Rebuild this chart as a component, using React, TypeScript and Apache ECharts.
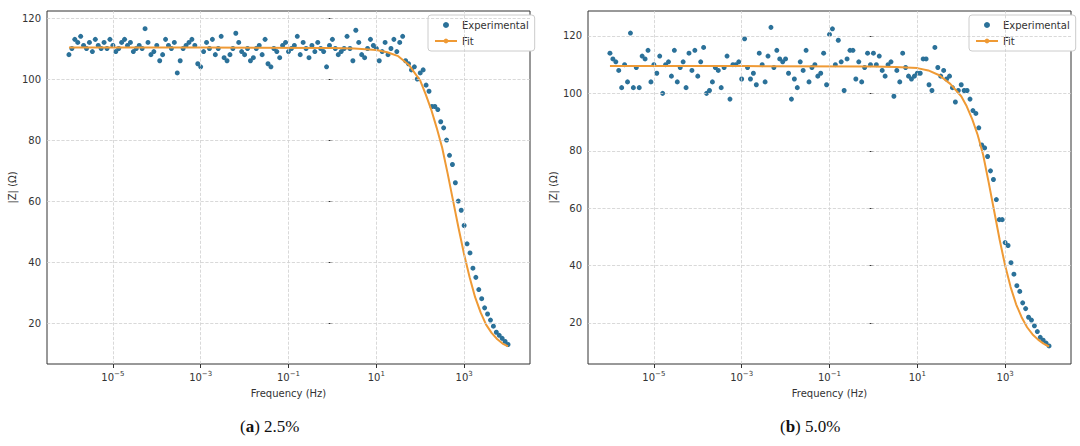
import React, { useEffect, useRef } from 'react';
import * as echarts from 'echarts';

// measurement grid: 151 frequencies, 15 per decade, 1e-6 .. 1e4 Hz
const logFreq: number[] = Array.from({ length: 151 }, (_, i) => -6 + i / 15);

const zLeft: number[] = [
  108, 110, 113, 112, 114, 111, 110, 112, 109, 113, 111, 110, 112, 110, 113, 111, 109, 110, 112, 113,
  111, 112, 109, 110, 111, 110, 116.5, 112, 108, 109, 111, 106, 108, 113, 111, 110, 112, 102, 106, 110,
  111, 112, 113, 111, 105, 104, 109, 112, 110, 113, 108, 110, 114, 107, 106, 108, 110, 115, 112, 109,
  108, 110, 106, 107, 110, 111, 108, 113, 105, 104, 110, 109, 107, 111, 112, 109, 110, 111, 114, 108,
  112, 110, 107, 111, 109, 112, 110, 109, 104, 111, 113, 110, 108, 109, 110, 114, 110, 106, 116, 112,
  108, 107, 110, 113, 111, 110, 106, 109, 112, 108, 110, 113, 109, 112, 114,
];
const zLeftDrop: number[] = [
  106, 105, 103, 104, 100, 102, 103, 98, 96, 91, 91, 90, 86, 84, 80, 75, 72, 66, 60, 57,
  52, 46, 43, 38, 35, 31, 28, 25, 23, 21, 19, 17, 16, 15, 14, 13, 12.5, 12.5,
];

const zRight: number[] = [
  114, 112, 111, 108, 102, 110, 104, 121, 102, 109, 102, 113, 112, 115, 104, 110, 107, 113, 100, 110,
  111, 106, 115, 104, 109, 111, 102, 114, 108, 115, 106, 111, 116, 100, 101, 104, 109, 108, 102, 109,
  113, 98, 110, 110, 111, 105, 119, 109, 105, 107, 103, 114, 110, 104, 113, 123, 109, 115, 112, 111,
  112, 107, 98, 105, 102, 111, 108, 115, 104, 109, 110, 106, 107, 114, 103, 120.5, 122.5, 110, 118.5, 111,
  101, 112, 115, 115, 105, 111, 104, 109, 114, 110, 114, 110, 113, 108, 106, 110, 111, 99, 108, 104,
  114, 109, 106, 105, 106, 107, 107, 112, 112, 103, 101, 116, 109,
];
const zRightDrop: number[] = [
  106, 108, 105, 106, 102, 97, 101, 103, 101, 101, 98, 94, 93, 88, 82, 81, 78, 73, 70, 63,
  56, 56, 48, 47, 41, 37, 33, 31, 27, 25, 22, 21, 19, 17, 15, 14, 13, 12,
];

const fitLogs: number[] = [-6, -3, 0, 0.5, 1, 1.25, 1.5, 1.75, 2, 2.125, 2.25, 2.375, 2.5, 2.625, 2.75, 2.875, 3, 3.125, 3.25, 3.375, 3.5, 3.625, 3.75, 3.875, 4];
const fitLeft: number[] = [110.3, 110.3, 110.2, 110, 109.5, 108.8, 107.5, 104.5, 99.5, 95, 90, 84, 77.5, 69, 60, 51, 42.5, 35, 28.5, 23.5, 19.5, 16.8, 14.8, 13.3, 12.4];
const fitRight: number[] = [109.5, 109.5, 109.4, 109.2, 108.8, 108, 106.3, 103.3, 99, 95.5, 91, 85.5, 78.5, 69, 59, 49, 40, 32.5, 26.5, 22, 18.5, 16, 14.2, 12.8, 11.8];

const xTicks: number[] = [-5, -3, -1, 1, 3];
const yTicks: number[] = [20, 40, 60, 80, 100, 120];

const dot = '#2b7199';
const orange = '#ef9a35';

const App: React.FC = () => {
  const chartRef = useRef<HTMLDivElement>(null);

  useEffect(() => {
    document.body.style.margin = '0';
    if (!chartRef.current) return;
    const chart = echarts.init(chartRef.current, null, { renderer: 'svg' });

    const panels = [
      { left: 47, yMin: 6.6, yMax: 122.3, plateau: zLeft, drop: zLeftDrop, fit: fitLeft },
      { left: 588, yMin: 5.7, yMax: 128.7, plateau: zRight, drop: zRightDrop, fit: fitRight },
    ];

    const grid = panels.map(p => ({
      left: p.left, top: 11, width: 483, height: 353,
      show: true, borderColor: '#333', borderWidth: 1, backgroundColor: 'transparent',
    }));

    const xAxis = panels.map((p, i) => ({
      type: 'value', gridIndex: i, min: -6.5, max: 4.5,
      name: 'Frequency (Hz)', nameLocation: 'middle', nameGap: 24,
      nameTextStyle: { fontSize: 10, color: '#333', fontFamily: 'DejaVu Sans' },
      axisLine: { show: false },
      splitLine: { show: false },
      axisTick: { show: true, customValues: xTicks, length: 4, lineStyle: { color: '#333' } },
      axisLabel: {
        customValues: xTicks, margin: 6,
        formatter: (v: number) => `{b|10}{s|${String(v).replace('-', '−')}}`,
        rich: {
          b: { fontSize: 10, color: '#333', fontFamily: 'DejaVu Sans' },
          s: { fontSize: 7, color: '#333', fontFamily: 'DejaVu Sans', padding: [0, 0, 7, 0] },
        },
      },
    }));

    const yAxis = panels.map((p, i) => ({
      type: 'value', gridIndex: i, min: p.yMin, max: p.yMax,
      name: '|Z| (Ω)', nameLocation: 'middle', nameGap: 30,
      nameTextStyle: { fontSize: 10, color: '#333', fontFamily: 'DejaVu Sans' },
      axisLine: { show: false },
      splitLine: { show: false },
      axisTick: { show: true, customValues: yTicks, length: 4, lineStyle: { color: '#333' } },
      axisLabel: { customValues: yTicks, fontSize: 10, color: '#333', fontFamily: 'DejaVu Sans', margin: 6 },
    }));

    const gridLine = { type: 'dashed', color: '#cfcfcf', width: 0.8 };
    const series: any[] = [];
    panels.forEach((p, i) => {
      const z = p.plateau.concat(p.drop);
      series.push({
        name: 'Experimental', type: 'scatter', xAxisIndex: i, yAxisIndex: i,
        symbolSize: 5, itemStyle: { color: dot, opacity: 1 }, z: 3,
        data: logFreq.map((l, k) => [l, z[k]]),
        markLine: {
          silent: true, symbol: 'none', label: { show: false }, lineStyle: gridLine,
          data: [...xTicks.map(v => ({ xAxis: v })), ...yTicks.map(v => ({ yAxis: v }))],
        },
      });
      series.push({
        name: 'Fit', type: 'line', xAxisIndex: i, yAxisIndex: i, smooth: false,
        symbol: 'none', showSymbol: false, lineStyle: { color: orange, width: 2 }, itemStyle: { color: orange }, z: 4,
        data: fitLogs.map((l, k) => [l, p.fit[k]]),
      });
    });

    const legend = panels.map(p => ({
      left: p.left + 381, top: 15, orient: 'vertical', itemGap: 6, itemWidth: 22, itemHeight: 6,
      padding: [5, 6, 5, 6], backgroundColor: '#fff', borderColor: '#ccc', borderWidth: 1, borderRadius: 3,
      textStyle: { fontSize: 10, color: '#333', fontFamily: 'DejaVu Sans' },
      data: [
        { name: 'Experimental', icon: 'circle', itemStyle: { color: dot } },
        { name: 'Fit' },
      ],
    }));

    chart.setOption({
      animation: false,
      grid, xAxis, yAxis, series, legend,
      graphic: [
        {
          type: 'text', left: 240, top: 418,
          style: {
            text: '({a|a}) 2.5%', fontSize: 17, fontFamily: 'Liberation Serif', fill: '#111',
            rich: { a: { fontSize: 17, fontWeight: 'bold', fontFamily: 'Liberation Serif', fill: '#111' } },
          },
        },
        {
          type: 'text', left: 780, top: 418,
          style: {
            text: '({a|b}) 5.0%', fontSize: 17, fontFamily: 'Liberation Serif', fill: '#111',
            rich: { a: { fontSize: 17, fontWeight: 'bold', fontFamily: 'Liberation Serif', fill: '#111' } },
          },
        },
      ],
    });

    return () => chart.dispose();
  }, []);

  return <div ref={chartRef} style={{ width: 1080, height: 446 }} />;
};

export default App;
